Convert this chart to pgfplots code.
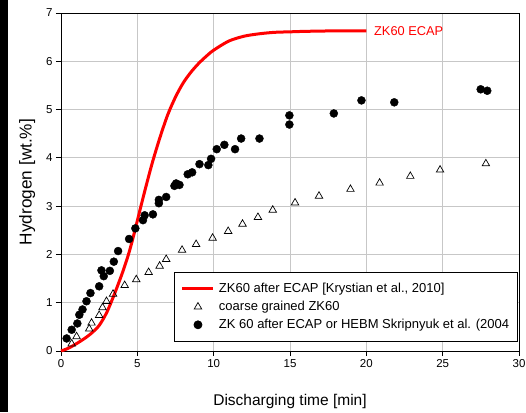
\documentclass[border=0pt]{standalone}
\usepackage{pgfplots}
\pgfplotsset{compat=1.18}
\usepackage{fontspec}
\setmainfont{Liberation Sans}

\begin{document}
\begin{tikzpicture}
\begin{axis}[
    name=ax,
    scale only axis,
    width=458pt, height=338pt,
    xmin=0, xmax=30, ymin=0, ymax=7,
    xtick={0,5,...,30}, ytick={0,1,...,7},
    grid=major,
    grid style={draw=black!22, line width=0.8pt},
    axis line style={line width=0.8pt},
    tick align=outside, tick pos=left,
    major tick length=5pt,
    tick style={black, line width=0.8pt},
    /pgf/number format/assume math mode=true,
    ticklabel style={font=\fontsize{11.5}{13}\selectfont},
    xlabel={Discharging time [min]},
    ylabel={Hydrogen [wt.\%]},
    xlabel style={font=\fontsize{15.5}{18}\selectfont,
        at={(axis description cs:0.5,-0.16)}, anchor=base},
    ylabel style={font=\fontsize{17.2}{20}\selectfont,
        at={(axis description cs:-0.064,0.5)}, anchor=base},
    clip=false,
    legend image code/.code={
        \draw[mark repeat=2, mark phase=2, #1] plot coordinates {(0pt,0pt) (15.5pt,0pt) (31pt,0pt)};
    },
    legend cell align=left,
    legend style={
        at={(rel axis cs:0.998,0.0275)}, anchor=south east,
        draw=black, line width=0.8pt,
        inner xsep=6.5pt, inner ysep=8pt,
        font=\fontsize{13}{15}\selectfont,
        nodes={inner sep=2pt, text height=10pt, text depth=3pt},
        row sep=1pt, column sep=2pt,
    },
]

% fitted curve, ECAP
\addplot[red, line width=3pt, smooth] coordinates {
    (0,0) (0.5,0.06) (1.0,0.15) (1.5,0.25) (2.0,0.37) (2.5,0.53) (3.0,0.8)
    (3.5,1.18) (4.0,1.6) (4.4,1.98) (4.7,2.32) (5.0,2.7) (5.3,3.08)
    (5.6,3.45) (6.0,3.92) (6.5,4.44) (7.0,4.9) (7.5,5.26) (8.0,5.55)
    (8.5,5.77) (9.0,5.95) (9.5,6.1) (10,6.23) (11,6.42) (12,6.52)
    (13,6.57) (14,6.6) (15,6.61) (16,6.62) (18,6.63) (20,6.63)
};
\addlegendentry{ZK60 after ECAP [Krystian et al., 2010]}

% coarse grained
\addplot[only marks, mark=triangle, mark size=4.3pt, black, line width=0.7pt,
    mark options={fill=white}] coordinates {
    (0.70,0.15) (1.02,0.30) (1.85,0.46) (2.00,0.58) (2.50,0.74) (2.72,0.90)
    (2.98,1.03) (3.41,1.18) (4.17,1.36) (4.93,1.48) (5.74,1.63) (6.46,1.76)
    (6.89,1.90) (7.93,2.09) (8.85,2.21) (9.93,2.34) (10.95,2.48) (11.89,2.63)
    (12.90,2.77) (13.87,2.92) (15.33,3.07) (16.90,3.21) (18.96,3.35)
    (20.87,3.48) (22.88,3.62) (24.83,3.75) (27.83,3.88)
};
\addlegendentry{coarse grained ZK60}

% Skripnyuk et al.
\addplot[only marks, mark=*, mark size=4pt, black] coordinates {
    (0.37,0.26) (0.70,0.44) (1.07,0.57) (1.20,0.75) (1.41,0.86) (1.67,1.03)
    (1.93,1.20) (2.50,1.34) (2.65,1.67) (2.80,1.55) (3.20,1.66) (3.46,1.85)
    (3.74,2.07) (4.46,2.32) (4.87,2.54) (5.37,2.71) (5.48,2.81) (6.02,2.83)
    (6.41,3.06) (6.41,3.13) (6.89,3.19) (7.43,3.42) (7.54,3.47) (7.76,3.44)
    (8.30,3.66) (8.59,3.70) (9.07,3.87) (9.65,3.85) (9.83,3.98) (10.20,4.18)
    (10.70,4.27) (11.40,4.18) (11.80,4.40) (13.00,4.40) (14.96,4.69)
    (14.96,4.88) (17.87,4.92) (19.68,5.19) (21.83,5.15) (27.49,5.42)
    (27.92,5.39)
};
\addlegendentry{ZK 60 after ECAP or HEBM Skripnyuk et al. (2004}

\node[anchor=west, inner sep=0pt, text=red, font=\fontsize{12.8}{15}\selectfont]
    at (axis cs:20.5,6.63) {ZK60 ECAP};
\end{axis}

\fill[black] ([xshift=-61pt,yshift=-61pt]ax.south west) rectangle ([xshift=-53pt,yshift=13pt]ax.north west);
\pgfresetboundingbox
\path[use as bounding box] ([xshift=-61pt,yshift=-61pt]ax.south west) rectangle ([xshift=7pt,yshift=13pt]ax.north east);
\end{tikzpicture}
\end{document}
